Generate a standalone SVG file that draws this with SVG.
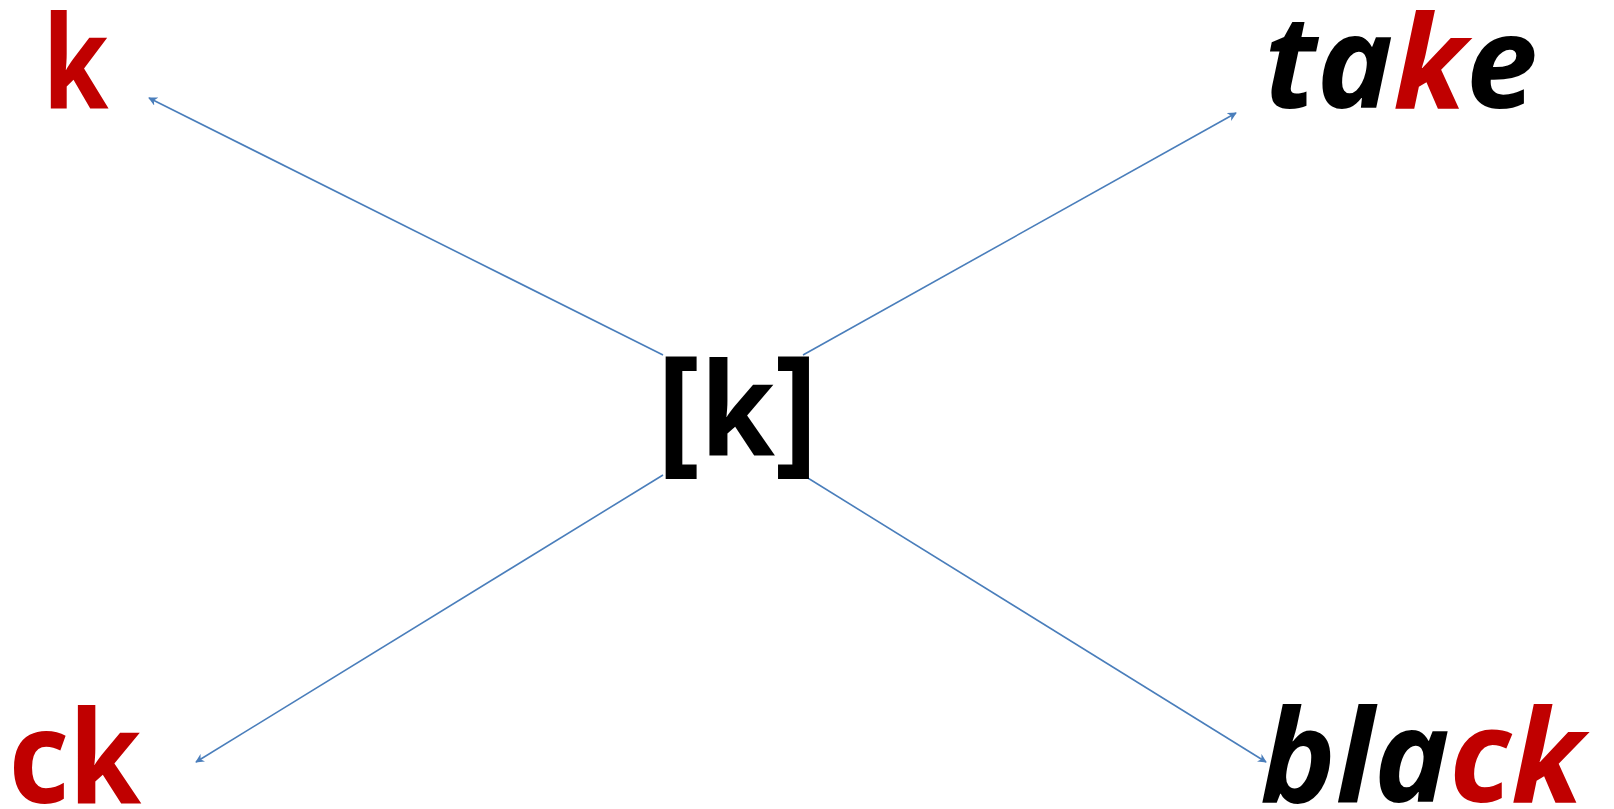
<svg xmlns="http://www.w3.org/2000/svg" width="1614" height="809" viewBox="0 0 1614 809">
<style>
.t{font-family:"Noto Sans","Open Sans","Liberation Sans",sans-serif;font-weight:bold;font-size:130px}
.i{font-style:italic}
.r{fill:#C00000}
.b{fill:#000000}
.c{stroke:#4A7EBB;stroke-width:1.6;fill:none;marker-end:url(#ah)}
</style>
<defs>
<marker id="ah" viewBox="0 0 10 10" refX="9" refY="5" markerWidth="9" markerHeight="9" markerUnits="userSpaceOnUse" orient="auto">
<path d="M0,0 L10,5 L0,10 L3,5 Z" fill="#4A7EBB"/>
</marker>
</defs>
<g id="connectors">
<line class="c" x1="663" y1="355" x2="149" y2="98"/>
<line class="c" x1="803" y1="355" x2="1236" y2="113"/>
<line class="c" x1="663" y1="475" x2="196" y2="762"/>
<line class="c" x1="803" y1="475" x2="1266" y2="762"/>
</g>
<g id="node-k"><text class="t r" transform="translate(42.4,108) scale(0.82,1)">k</text></g>
<g id="node-take"><text class="t i" transform="translate(1264,108) scale(0.99,1)"><tspan class="b">ta</tspan><tspan class="r">k</tspan><tspan class="b">e</tspan></text></g>
<g id="node-center"><text class="t b" transform="translate(656.5,455) scale(0.93,1)"><tspan font-size="141" y="2">[</tspan><tspan y="0">k</tspan><tspan font-size="141" y="2">]</tspan></text></g>
<g id="node-ck"><text class="t r" transform="translate(8.4,803) scale(0.9,1)">ck</text></g>
<g id="node-black"><text class="t i" transform="translate(1260,802) scale(0.98,1)"><tspan class="b">bla</tspan><tspan class="r">ck</tspan></text></g>
</svg>
